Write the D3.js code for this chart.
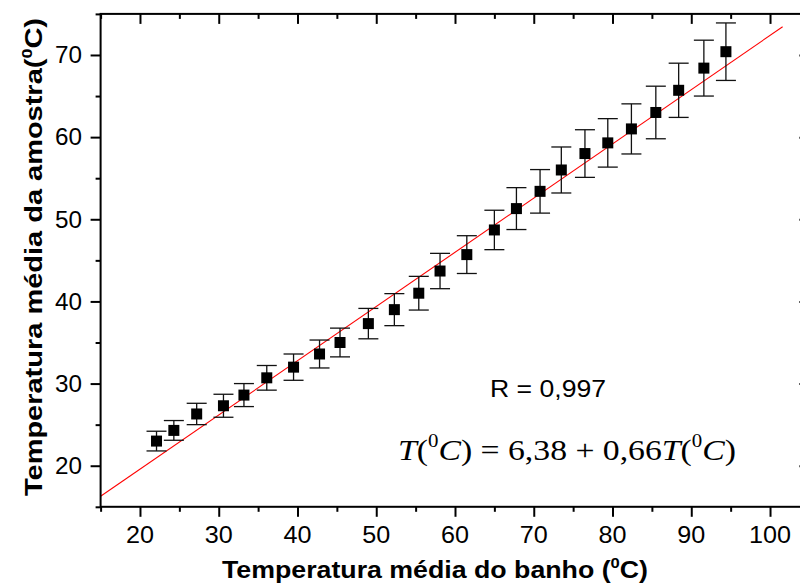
<!DOCTYPE html>
<html>
<head>
<meta charset="utf-8">
<script src="https://cdn.jsdelivr.net/npm/d3@7"></script>
<style>
  body { margin: 0; background: #fff; }
  svg { display: block; }
</style>
</head>
<body>
<div id="viz"></div>
<script>
// bath temperature (x) vs sample temperature (y), with error on y
const bathTemp = [22.1, 24.3, 27.2, 30.6, 33.2, 36.1, 39.5, 42.8, 45.4, 49.0, 52.3, 55.4, 58.1,
                  61.5, 65.0, 67.8, 70.8, 73.5, 76.5, 79.4, 82.4, 85.5, 88.4, 91.6, 94.4];
const sampleTemp = [23.0, 24.3, 26.3, 27.3, 28.6, 30.7, 32.0, 33.6, 35.0, 37.3, 39.0, 41.0, 43.7,
                    45.7, 48.7, 51.3, 53.4, 56.0, 58.0, 59.3, 61.0, 63.0, 65.7, 68.4, 70.4];
const sampleErr = [1.2, 1.2, 1.3, 1.4, 1.4, 1.5, 1.6, 1.7, 1.75, 1.85, 1.95, 2.05, 2.15,
                   2.3, 2.4, 2.55, 2.65, 2.8, 2.9, 2.95, 3.05, 3.2, 3.3, 3.4, 3.5];

// linear fit
const fitIntercept = 6.38;
const fitSlope = 0.66;
const fitRange = [15, 101.6];

const xMajor = [20, 30, 40, 50, 60, 70, 80, 90, 100];
const xMinor = [15, 25, 35, 45, 55, 65, 75, 85, 95, 105];
const yMajor = [20, 30, 40, 50, 60, 70];
const yMinor = [15, 25, 35, 45, 55, 65, 75];

const width = 800, height = 584;
const plotL = 100.6, plotR = 809.4, plotT = 13.9, plotB = 506.8;
const sans = "'Liberation Sans', Arial, sans-serif";
const serif = "'Liberation Serif', 'Times New Roman', serif";

const svg = d3.select("#viz").append("svg")
    .attr("width", width)
    .attr("height", height);

const x = d3.scaleLinear().domain([15, 105]).range([plotL, plotR]);
const y = d3.scaleLinear().domain([15, 75]).range([plotB, plotT]);

// fit line (drawn first, under markers)
svg.append("line")
    .attr("x1", x(fitRange[0]))
    .attr("y1", y(fitIntercept + fitSlope * fitRange[0]))
    .attr("x2", x(fitRange[1]))
    .attr("y2", y(fitIntercept + fitSlope * fitRange[1]))
    .attr("stroke", "#ff0000")
    .attr("stroke-width", 1.1);

// error bars
const pts = bathTemp.map((d, i) => ({ x: d, y: sampleTemp[i], e: sampleErr[i] }));
const err = svg.append("g")
    .attr("stroke", "#111")
    .attr("stroke-width", 1.3);

err.selectAll("line.v")
    .data(pts)
    .enter()
    .append("line")
    .attr("class", "v")
    .attr("x1", d => x(d.x)).attr("x2", d => x(d.x))
    .attr("y1", d => y(d.y - d.e)).attr("y2", d => y(d.y + d.e));

err.selectAll("line.top")
    .data(pts)
    .enter()
    .append("line")
    .attr("class", "top")
    .attr("x1", d => x(d.x) - 10).attr("x2", d => x(d.x) + 10)
    .attr("y1", d => y(d.y + d.e)).attr("y2", d => y(d.y + d.e));

err.selectAll("line.bot")
    .data(pts)
    .enter()
    .append("line")
    .attr("class", "bot")
    .attr("x1", d => x(d.x) - 10).attr("x2", d => x(d.x) + 10)
    .attr("y1", d => y(d.y - d.e)).attr("y2", d => y(d.y - d.e));

// square markers
const sq = 11;
svg.selectAll("rect.pt")
    .data(pts)
    .enter()
    .append("rect")
    .attr("class", "pt")
    .attr("x", d => x(d.x) - sq / 2)
    .attr("y", d => y(d.y) - sq / 2)
    .attr("width", sq)
    .attr("height", sq)
    .attr("fill", "#000");

// axes: frame with major/minor ticks
function styleAxis(g) {
    g.select(".domain").remove();
    g.selectAll("line").attr("stroke", "#000").attr("stroke-width", 2);
    g.selectAll("text").remove();
}

svg.append("g").attr("transform", `translate(0,${plotB})`)
    .call(d3.axisBottom(x).tickValues(xMajor).tickSize(10)).call(styleAxis);
svg.append("g").attr("transform", `translate(0,${plotB})`)
    .call(d3.axisBottom(x).tickValues(xMinor).tickSize(5)).call(styleAxis);
svg.append("g").attr("transform", `translate(0,${plotT})`)
    .call(d3.axisBottom(x).tickValues(xMajor).tickSize(10)).call(styleAxis);
svg.append("g").attr("transform", `translate(0,${plotT})`)
    .call(d3.axisBottom(x).tickValues(xMinor).tickSize(5)).call(styleAxis);

svg.append("g").attr("transform", `translate(${plotL},0)`)
    .call(d3.axisLeft(y).tickValues(yMajor).tickSize(10)).call(styleAxis);
svg.append("g").attr("transform", `translate(${plotL},0)`)
    .call(d3.axisLeft(y).tickValues(yMinor).tickSize(5)).call(styleAxis);
svg.append("g").attr("transform", `translate(${plotR},0)`)
    .call(d3.axisLeft(y).tickValues(yMajor).tickSize(10)).call(styleAxis);
svg.append("g").attr("transform", `translate(${plotR},0)`)
    .call(d3.axisLeft(y).tickValues(yMinor).tickSize(5)).call(styleAxis);

svg.append("rect")
    .attr("x", plotL).attr("y", plotT)
    .attr("width", plotR - plotL).attr("height", plotB - plotT)
    .attr("fill", "none")
    .attr("stroke", "#000")
    .attr("stroke-width", 2);

// tick labels
svg.append("g").selectAll("text")
    .data(xMajor)
    .enter()
    .append("text")
    .attr("x", d => x(d))
    .attr("y", 543)
    .attr("text-anchor", "middle")
    .style("font-family", sans)
    .style("font-size", "23px")
    .attr("textLength", d => String(d).length * 14)
    .attr("lengthAdjust", "spacingAndGlyphs")
    .text(d => d);

svg.append("g").selectAll("text")
    .data(yMajor)
    .enter()
    .append("text")
    .attr("x", 82)
    .attr("y", d => y(d) + 8.3)
    .attr("text-anchor", "end")
    .style("font-family", sans)
    .style("font-size", "23px")
    .attr("textLength", 27)
    .attr("lengthAdjust", "spacingAndGlyphs")
    .text(d => d);

// text with a raised "0" (degree)
function supText(sel, parts, size) {
    const shift = size * 0.42;
    let raised = false;
    parts.forEach(p => {
        const t = sel.append("tspan").text(p.t);
        if (p.sup) {
            t.style("font-size", (size * 0.62) + "px").attr("dy", -shift);
            raised = true;
        } else if (raised) {
            t.attr("dy", shift);
            raised = false;
        }
        if (p.i) t.style("font-style", "italic");
    });
}

const xTitle = svg.append("text")
    .attr("x", 435)
    .attr("y", 578)
    .attr("text-anchor", "middle")
    .attr("textLength", 426)
    .attr("lengthAdjust", "spacingAndGlyphs")
    .style("font-family", sans)
    .style("font-size", "23px")
    .style("font-weight", "bold");
supText(xTitle, [{ t: "Temperatura média do banho (" }, { t: "0", sup: true }, { t: "C)" }], 23);

const yTitle = svg.append("text")
    .attr("transform", "translate(42,257) rotate(-90)")
    .attr("text-anchor", "middle")
    .attr("textLength", 478)
    .attr("lengthAdjust", "spacingAndGlyphs")
    .style("font-family", sans)
    .style("font-size", "23px")
    .style("font-weight", "bold");
supText(yTitle, [{ t: "Temperatura média da amostra(" }, { t: "0", sup: true }, { t: "C)" }], 23);

// annotations
svg.append("text")
    .attr("x", 490)
    .attr("y", 397)
    .attr("textLength", 116)
    .attr("lengthAdjust", "spacingAndGlyphs")
    .style("font-family", sans)
    .style("font-size", "24px")
    .text("R = 0,997");

const eq = svg.append("text")
    .attr("x", 398)
    .attr("y", 460)
    .attr("textLength", 338)
    .attr("lengthAdjust", "spacingAndGlyphs")
    .style("font-family", serif)
    .style("font-size", "30px");
supText(eq, [
    { t: "T", i: true }, { t: "(" }, { t: "0", sup: true }, { t: "C", i: true },
    { t: ") = 6,38 + 0,66" }, { t: "T", i: true }, { t: "(" }, { t: "0", sup: true },
    { t: "C", i: true }, { t: ")" }
], 30);
</script>
</body>
</html>
